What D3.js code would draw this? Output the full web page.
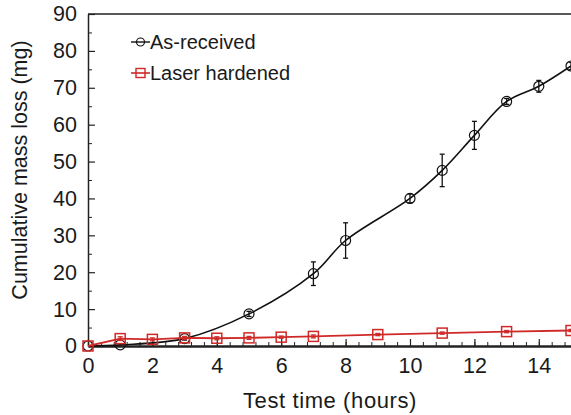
<!DOCTYPE html>
<html>
<head>
<meta charset="utf-8">
<script src="https://cdn.jsdelivr.net/npm/d3@7"></script>
<style>
  body { margin: 0; background: #fff; }
  text { font-family: "Liberation Sans", Arial, sans-serif; fill: #1a1a1a; }
</style>
</head>
<body>
<div id="chart"></div>
<script>
// data
let asHours = [0, 1, 3, 5, 7, 8, 10, 11, 12, 13, 14, 15];
let asLoss = [0, 0.3, 2.0, 8.7, 19.6, 28.6, 40.0, 47.6, 57.1, 66.3, 70.4, 75.9];
let asErr = [0, 0, 0.4, 0.7, 3.2, 4.8, 1.2, 4.4, 3.8, 0.8, 1.6, 1.0];

let lhHours = [0, 1, 2, 3, 4, 5, 6, 7, 9, 11, 13, 15];
let lhLoss = [0, 2.0, 1.8, 2.2, 2.1, 2.2, 2.4, 2.6, 3.1, 3.5, 3.9, 4.2];
let lhErr = [0, 0.5, 0.4, 0.4, 0.4, 0.4, 0.3, 0.4, 0.3, 0.3, 0.3, 0.3];

let xTicks = [0, 2, 4, 6, 8, 10, 12, 14];
let yTicks = [0, 10, 20, 30, 40, 50, 60, 70, 80, 90];

let svgWidth = 571;
let svgHeight = 415;

let margin = { top: 14, right: 0, bottom: 69, left: 88 };
let width = svgWidth - margin.left - margin.right;
let height = svgHeight - margin.top - margin.bottom;

let red = '#cf2a27';
let fontStack = '"Liberation Sans", Arial, sans-serif';

let svg = d3.select('#chart')
  .append('svg')
  .attr('width', svgWidth)
  .attr('height', svgHeight);

let chartGroup = svg.append('g')
  .attr('transform', `translate(${margin.left}, ${margin.top})`);

let x = d3.scaleLinear().domain([0, 15]).range([0, width]);
let y = d3.scaleLinear().domain([0, 90]).range([height, 0]);

// minor ticks
chartGroup.append('g')
  .attr('transform', `translate(0, ${height})`)
  .call(d3.axisBottom(x).tickValues(d3.range(0, 15.01, 0.4)).tickSize(-4).tickFormat(''))
  .call(g => g.select('.domain').remove())
  .call(g => g.selectAll('line').attr('stroke', '#222').attr('stroke-width', 1));

chartGroup.append('g')
  .call(d3.axisLeft(y).tickValues(d3.range(5, 90, 10)).tickSize(-4).tickFormat(''))
  .call(g => g.select('.domain').remove())
  .call(g => g.selectAll('line').attr('stroke', '#222').attr('stroke-width', 1));

// x axis
let xAxis = chartGroup.append('g')
  .attr('transform', `translate(0, ${height})`)
  .call(d3.axisBottom(x).tickValues(xTicks).tickSize(-7).tickPadding(12).tickSizeOuter(0));
xAxis.select('.domain').attr('stroke', '#222').attr('stroke-width', 2.5);
xAxis.selectAll('line').attr('stroke', '#222').attr('stroke-width', 1.2);
xAxis.selectAll('text').attr('font-size', '21.5px').attr('fill', '#1a1a1a')
  .style('font-family', fontStack);

// y axis
let yAxis = chartGroup.append('g')
  .call(d3.axisLeft(y).tickValues(yTicks).tickSize(-7).tickPadding(11).tickSizeOuter(0));
yAxis.select('.domain').attr('stroke', '#222').attr('stroke-width', 1.5);
yAxis.selectAll('line').attr('stroke', '#222').attr('stroke-width', 1.2);
yAxis.selectAll('text').attr('font-size', '21.5px').attr('fill', '#1a1a1a')
  .style('font-family', fontStack);

// top border
chartGroup.append('line')
  .attr('x1', 0).attr('x2', width)
  .attr('y1', 0).attr('y2', 0)
  .attr('stroke', '#222').attr('stroke-width', 1.5);

// axis labels
chartGroup.append('text')
  .attr('x', 330 - margin.left)
  .attr('y', height + 62)
  .attr('text-anchor', 'middle')
  .attr('font-size', '22px')
  .attr('letter-spacing', '0.6px')
  .text('Test time (hours)');

chartGroup.append('text')
  .attr('transform', 'rotate(-90)')
  .attr('x', -(170 - margin.top))
  .attr('y', -(margin.left - 27))
  .attr('text-anchor', 'middle')
  .attr('font-size', '21.5px')
  .text('Cumulative mass loss (mg)');

let asData = asHours.map((h, i) => ({ h: h, v: asLoss[i], e: asErr[i] }));
let lhData = lhHours.map((h, i) => ({ h: h, v: lhLoss[i], e: lhErr[i] }));

function drawErrors(data, color) {
  let g = chartGroup.append('g').attr('stroke', color).attr('stroke-width', 1.3);
  data.filter(d => d.e > 0).forEach(d => {
    g.append('line').attr('x1', x(d.h)).attr('x2', x(d.h)).attr('y1', y(d.v - d.e)).attr('y2', y(d.v + d.e));
    g.append('line').attr('x1', x(d.h) - 2.5).attr('x2', x(d.h) + 2.5).attr('y1', y(d.v - d.e)).attr('y2', y(d.v - d.e));
    g.append('line').attr('x1', x(d.h) - 2.5).attr('x2', x(d.h) + 2.5).attr('y1', y(d.v + d.e)).attr('y2', y(d.v + d.e));
  });
}

// as-received curve
chartGroup.append('path')
  .datum(asData)
  .attr('fill', 'none')
  .attr('stroke', '#111')
  .attr('stroke-width', 1.6)
  .attr('d', d3.line().x(d => x(d.h)).y(d => y(d.v)).curve(d3.curveCatmullRom.alpha(0.5)));

drawErrors(asData, '#111');

chartGroup.selectAll('.asPoint')
  .data(asData)
  .enter()
  .append('circle')
  .classed('asPoint', true)
  .attr('cx', d => x(d.h))
  .attr('cy', d => y(d.v))
  .attr('r', 5)
  .attr('fill', 'none')
  .attr('stroke', '#111')
  .attr('stroke-width', 1.2);

// laser hardened line
chartGroup.append('path')
  .datum(lhData)
  .attr('fill', 'none')
  .attr('stroke', red)
  .attr('stroke-width', 1.8)
  .attr('d', d3.line().x(d => x(d.h)).y(d => y(d.v)));

drawErrors(lhData, red);

chartGroup.selectAll('.lhPoint')
  .data(lhData)
  .enter()
  .append('rect')
  .classed('lhPoint', true)
  .attr('x', d => x(d.h) - 5)
  .attr('y', d => y(d.v) - 5)
  .attr('width', 10)
  .attr('height', 10)
  .attr('fill', 'none')
  .attr('stroke', red)
  .attr('stroke-width', 1.5);

// legend
let legend = svg.append('g');
legend.append('line').attr('x1', 131).attr('x2', 150).attr('y1', 42).attr('y2', 42)
  .attr('stroke', '#111').attr('stroke-width', 1.4);
legend.append('circle').attr('cx', 140.5).attr('cy', 42).attr('r', 4)
  .attr('fill', 'none').attr('stroke', '#111').attr('stroke-width', 1.2);
legend.append('text').attr('x', 150).attr('y', 49).attr('font-size', '20px').text('As-received');

legend.append('line').attr('x1', 131).attr('x2', 150).attr('y1', 73).attr('y2', 73)
  .attr('stroke', red).attr('stroke-width', 1.6);
legend.append('rect').attr('x', 136).attr('y', 68.5).attr('width', 9).attr('height', 9)
  .attr('fill', 'none').attr('stroke', red).attr('stroke-width', 1.4);
legend.append('text').attr('x', 150).attr('y', 80).attr('font-size', '20px').text('Laser hardened');
</script>
</body>
</html>
